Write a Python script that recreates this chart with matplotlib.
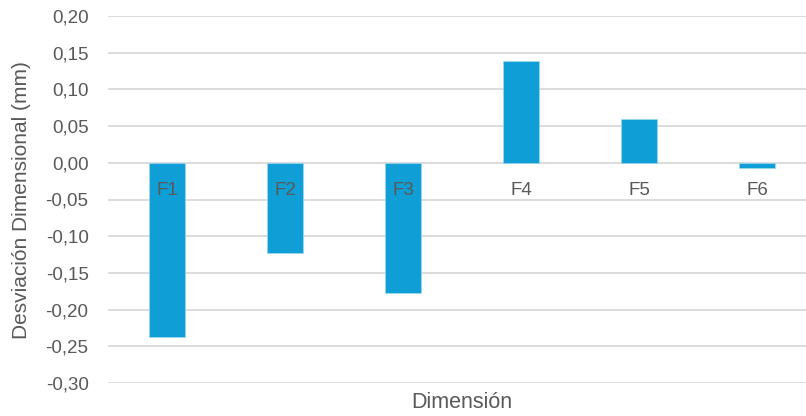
import matplotlib
matplotlib.use("Agg")
import matplotlib.pyplot as plt
import numpy as np

categories = ["F1", "F2", "F3", "F4", "F5", "F6"]
deviations = [-0.237, -0.123, -0.177, 0.139, 0.059, -0.007]
y_ticks = [0.20, 0.15, 0.10, 0.05, 0.00, -0.05, -0.10, -0.15, -0.20, -0.25, -0.30]

plt.rcParams["font.family"] = ["Liberation Sans", "DejaVu Sans"]
text_color = "#595959"

W, H = 806, 416
fig = plt.figure(figsize=(W / 100, H / 100), dpi=100)
left, right = 108, 816
top, bottom = 16, 383
ax = fig.add_axes([left / W, 1 - bottom / H, (right - left) / W, (bottom - top) / H])

x = np.arange(len(categories))
ax.bar(x, deviations, width=0.31, color="#0F9ED5", edgecolor="#9fd8ef", linewidth=0.5, zorder=3)

ax.set_xlim(-0.5, len(categories) - 0.5)
ax.set_ylim(-0.30, 0.20)
ax.set_yticks(y_ticks)
ax.set_yticklabels([f"{v:.2f}".replace(".", ",") for v in y_ticks], fontsize=13.5, color=text_color)
ax.yaxis.grid(True, color="#D9D9D9", linewidth=1.3, zorder=0)
ax.tick_params(axis="y", length=0, pad=14)
ax.set_xticks([])

for xi, lab in zip(x, categories):
    ax.text(xi, -0.0375, lab, ha="center", va="center", fontsize=13.5, color=text_color, zorder=4)

for s in ax.spines.values():
    s.set_visible(False)

fig.text(22 / W, 1 - 200 / H, "Desviación Dimensional (mm)", rotation=90, ha="center", va="center",
         fontsize=15, color=text_color)
fig.text(462 / W, 1 - 403 / H, "Dimensión", ha="center", va="center", fontsize=15.5, color=text_color)

fig.savefig("out.png", dpi=100)
